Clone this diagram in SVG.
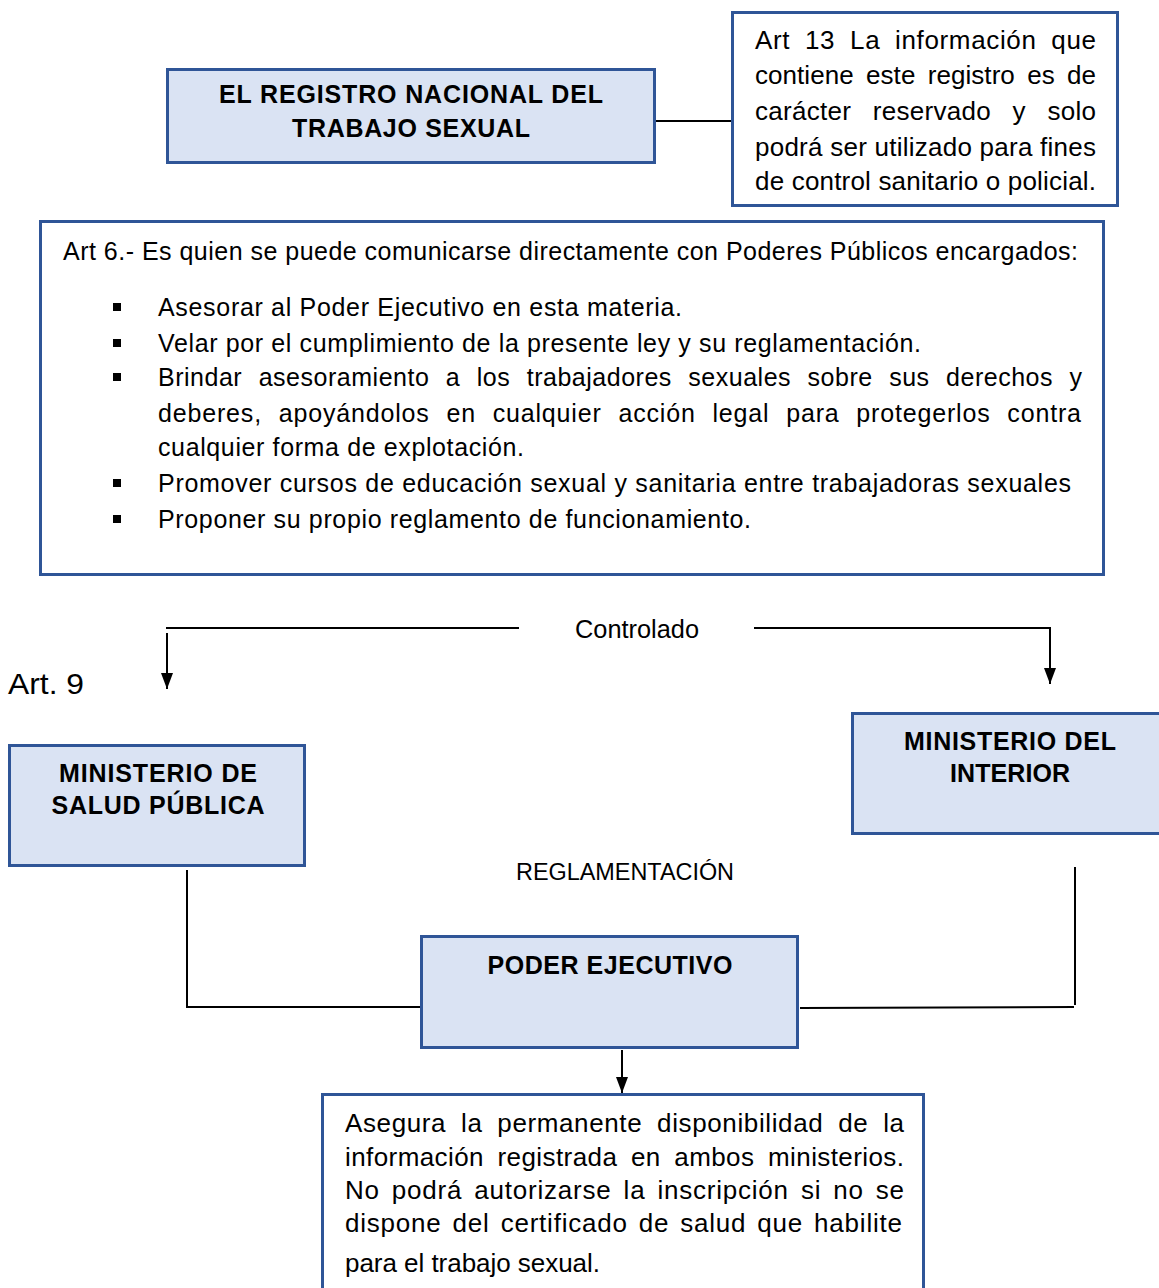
<svg xmlns="http://www.w3.org/2000/svg" width="1159" height="1288" viewBox="0 0 1159 1288">
<style>
.box{fill:#dae3f3;stroke:#2f5597;stroke-width:3}
.wbox{fill:#ffffff;stroke:#2f5597;stroke-width:3}
.t{font-family:"Liberation Sans",Arial,sans-serif;font-size:25px;fill:#000}
.t26{font-family:"Liberation Sans",Arial,sans-serif;font-size:26px;fill:#000}
.b{font-family:"Liberation Sans",Arial,sans-serif;font-size:25px;font-weight:bold;fill:#000;text-anchor:middle}
.ln{stroke:#000;stroke-width:2;fill:none}
.bul{fill:#000}
</style>
<defs>
<marker id="ah" markerUnits="userSpaceOnUse" markerWidth="16" markerHeight="12" refX="16" refY="6" orient="auto" viewBox="0 0 16 12">
<path d="M0,0 L16,6 L0,12 Z" fill="#000"/>
</marker>
</defs>

<g id="connectors">
<line class="ln" x1="656" y1="121" x2="731" y2="121"/>
<line class="ln" x1="166" y1="628" x2="519" y2="628"/>
<line class="ln" x1="167" y1="633" x2="167" y2="689" marker-end="url(#ah)"/>
<polyline class="ln" points="754,628 1050,628 1050,684" marker-end="url(#ah)"/>
<polyline class="ln" points="187,870 187,1007 420,1007"/>
<line class="ln" x1="1075" y1="867" x2="1075" y2="1005"/>
<line class="ln" x1="800" y1="1008" x2="1074" y2="1007"/>
<line class="ln" x1="622" y1="1050" x2="622" y2="1093" marker-end="url(#ah)"/>
</g>

<g id="registro">
<rect class="box" x="167.5" y="69.5" width="487" height="93"/>
<text class="b" x="411" y="103" textLength="384" lengthAdjust="spacing">EL REGISTRO NACIONAL  DEL</text>
<text class="b" x="411" y="137" textLength="238" lengthAdjust="spacing">TRABAJO  SEXUAL</text>
</g>

<g id="art13">
<rect class="wbox" x="732.5" y="12.5" width="385" height="193"/>
<text class="t26" x="755" y="49" word-spacing="7" textLength="341" lengthAdjust="spacing">Art 13 La información que</text>
<text class="t26" x="755" y="84" word-spacing="5" textLength="341" lengthAdjust="spacing">contiene este registro es de</text>
<text class="t26" x="755" y="120" word-spacing="14" textLength="341" lengthAdjust="spacing">carácter reservado y solo</text>
<text class="t26" x="755" y="156" textLength="341" lengthAdjust="spacing">podrá ser utilizado para fines</text>
<text class="t26" x="755" y="190" textLength="341" lengthAdjust="spacing">de control sanitario o policial.</text>
</g>

<g id="art6">
<rect class="wbox" x="40.5" y="221.5" width="1063" height="353"/>
<text class="t" x="63" y="260" textLength="1015" lengthAdjust="spacing">Art 6.- Es quien se puede comunicarse directamente con Poderes Públicos encargados:</text>
<rect class="bul" x="113" y="303" width="8" height="8"/>
<rect class="bul" x="113" y="339" width="8" height="8"/>
<rect class="bul" x="113" y="373" width="8" height="8"/>
<rect class="bul" x="113" y="479" width="8" height="8"/>
<rect class="bul" x="113" y="515" width="8" height="8"/>
<text class="t" x="158" y="316" textLength="524" lengthAdjust="spacing">Asesorar al Poder Ejecutivo en esta materia.</text>
<text class="t" x="158" y="352" textLength="763" lengthAdjust="spacing">Velar por el cumplimiento de la presente ley y su reglamentación.</text>
<text class="t" x="158" y="386" word-spacing="9" textLength="924" lengthAdjust="spacing">Brindar asesoramiento a los trabajadores sexuales sobre sus derechos y</text>
<text class="t" x="158" y="422" word-spacing="9" textLength="923" lengthAdjust="spacing">deberes, apoyándolos en cualquier acción legal para protegerlos contra</text>
<text class="t" x="158" y="456" textLength="366" lengthAdjust="spacing">cualquier forma de explotación.</text>
<text class="t" x="158" y="492" textLength="913" lengthAdjust="spacing">Promover cursos de educación sexual y sanitaria entre trabajadoras sexuales</text>
<text class="t" x="158" y="528" textLength="593" lengthAdjust="spacing">Proponer su propio reglamento de funcionamiento.</text>
</g>

<g id="labels">
<text class="t" x="575" y="638" textLength="124" lengthAdjust="spacingAndGlyphs">Controlado</text>
<text class="t" x="8" y="694" style="font-size:30px" textLength="76" lengthAdjust="spacingAndGlyphs">Art. 9</text>
<text class="t" x="516" y="880" style="font-size:23px" textLength="218" lengthAdjust="spacingAndGlyphs">REGLAMENTACIÓN</text>
</g>

<g id="salud">
<rect class="box" x="9.5" y="745.5" width="295" height="120"/>
<text class="b" x="158" y="782" textLength="198" lengthAdjust="spacing">MINISTERIO DE</text>
<text class="b" x="158" y="814" textLength="213" lengthAdjust="spacing">SALUD PÚBLICA</text>
</g>

<g id="interior">
<rect class="box" x="852.5" y="713.5" width="310" height="120"/>
<text class="b" x="1010" y="750" textLength="212" lengthAdjust="spacing">MINISTERIO DEL</text>
<text class="b" x="1010" y="782" textLength="120" lengthAdjust="spacing">INTERIOR</text>
</g>

<g id="poder">
<rect class="box" x="421.5" y="936.5" width="376" height="111"/>
<text class="b" x="610" y="974" textLength="245" lengthAdjust="spacing">PODER  EJECUTIVO</text>
</g>

<g id="asegura">
<rect class="wbox" x="322.5" y="1094.5" width="601" height="200"/>
<text class="t26" x="345" y="1132" word-spacing="7" textLength="559" lengthAdjust="spacing">Asegura la permanente disponibilidad de la</text>
<text class="t26" x="345" y="1166" word-spacing="6" textLength="559" lengthAdjust="spacing">información registrada en ambos ministerios.</text>
<text class="t26" x="345" y="1199" word-spacing="4" textLength="559" lengthAdjust="spacing">No podrá autorizarse la inscripción si no se</text>
<text class="t26" x="345" y="1232" word-spacing="3" textLength="557" lengthAdjust="spacing">dispone del certificado de salud que habilite</text>
<text class="t26" x="345" y="1272" textLength="255" lengthAdjust="spacing">para el trabajo sexual.</text>
</g>
</svg>
